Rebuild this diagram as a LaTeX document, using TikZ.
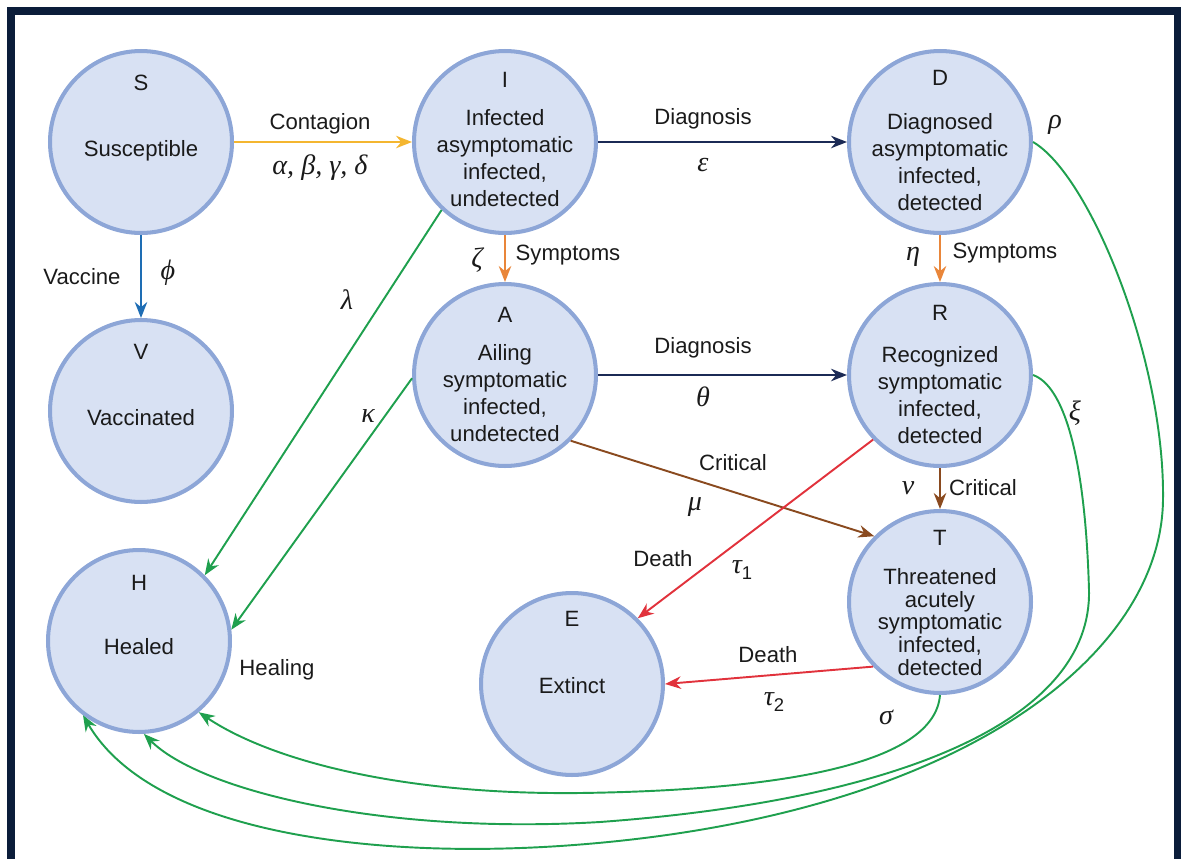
\documentclass[tikz,border=0pt]{standalone}
\usepackage{fontspec}
\setmainfont{Liberation Sans}
\newfontfamily\grkfont{Liberation Serif}
\usetikzlibrary{arrows.meta}
\newcommand{\subn}[1]{\raisebox{-0.45ex}{\normalfont\upshape\fontsize{10.5}{11}\selectfont #1}}
\definecolor{cframe}{HTML}{0B1D3A}
\definecolor{cfill}{HTML}{D8E1F3}
\definecolor{crim}{HTML}{8DA6D7}
\definecolor{cink}{HTML}{1A1A1A}
\definecolor{cyellow}{HTML}{F4B630}
\definecolor{cnavy}{HTML}{1B2A55}
\definecolor{corange}{HTML}{E9863A}
\definecolor{cblue}{HTML}{1E6DB4}
\definecolor{cbrown}{HTML}{8A4A1F}
\definecolor{cred}{HTML}{E1323C}
\definecolor{cgreen}{HTML}{1FA04E}

\begin{document}
\begin{tikzpicture}[
  x=0.02cm, y=-0.02cm,
  font=\fontsize{12.6}{15.5}\selectfont,
  state/.style={circle, draw=crim, fill=cfill, line width=2.3pt,
                minimum size=3.64cm, inner sep=0pt},
  tag/.style={text=cink, inner sep=1pt},
  desc/.style={text=cink, align=center, inner sep=1pt},
  tight/.style={desc, font=\fontsize{12.6}{13}\selectfont},
  greek/.style={text=cink, inner sep=1pt, font=\grkfont\itshape\fontsize{16}{18}\selectfont},
  flow/.style={-{Stealth[length=3.2mm, width=2.5mm]}, line width=1.1pt}
]
\useasboundingbox (0,0) rectangle (1181,859);
\draw[cframe, line width=4.5pt] (11,11) rectangle (1178,900);

% compartments
\node[state] (S) at (141,142) {};
\node[state] (V) at (141,411) {};
\node[state] (H) at (139,641) {};
\node[state] (I) at (505,142) {};
\node[state] (A) at (505,375) {};
\node[state] (E) at (572,684) {};
\node[state] (D) at (940,142) {};
\node[state] (R) at (940,375) {};
\node[state] (T) at (940,602) {};

% letters and names
\node[tag] (S-t) at (141,83) {S};
\node[desc] (S-d) at (141,151) {Susceptible};
\node[tag] (V-t) at (141,352) {V};
\node[desc] (V-d) at (141,418) {Vaccinated};
\node[tag] (H-t) at (139,583) {H};
\node[desc] (H-d) at (139,647) {Healed};
\node[tag] (E-t) at (572,619) {E};
\node[desc] (E-d) at (572,686) {Extinct};
\node[tag] (I-t) at (505,80) {I};
\node[desc] (I-d) at (505,158) {Infected\\asymptomatic\\infected,\\undetected};
\node[tag] (A-t) at (505,315) {A};
\node[desc] (A-d) at (505,393) {Ailing\\symptomatic\\infected,\\undetected};
\node[tag] (D-t) at (940,78) {D};
\node[desc] (D-d) at (940,162) {Diagnosed\\asymptomatic\\infected,\\detected};
\node[tag] (R-t) at (940,313) {R};
\node[desc] (R-d) at (940,395) {Recognized\\symptomatic\\infected,\\detected};
\node[tag] (T-t) at (940,538) {T};
\node[tight] (T-d) at (940,622) {Threatened\\acutely\\symptomatic\\infected,\\detected};

% transitions
\draw[flow, cyellow] (S.east) -- (I.west);
\draw[flow, cnavy] (I.east) -- (D.west);
\draw[flow, cblue] (S.south) -- (V.north);
\draw[flow, corange] (I.south) -- (A.north);
\draw[flow, corange] (D.south) -- (R.north);
\draw[flow, cnavy] (A.east) -- (R.west);
\draw[flow, cbrown] (R.south) -- (T.north);
\draw[flow, cbrown] (A.315) -- (T.135);
\draw[flow, cred] (R.224) -- (E.45);
\draw[flow, cred] (T.224) -- (E.0);
\draw[flow, cgreen] (I.227) -- (H.45);
\draw[flow, cgreen] (A.182) -- (H.7);
\draw[flow, cgreen] (T.south) .. controls (935,760) and (800,790) .. (580,793)
  .. controls (400,795) and (270,760) .. (H.-50);
\draw[flow, cgreen] (R.east) .. controls (1062,385) and (1085,450) .. (1089,590)
  .. controls (1092,720) and (900,800) .. (600,822)
  .. controls (380,835) and (200,790) .. (H.-87);
\draw[flow, cgreen] (D.east) .. controls (1090,175) and (1165,360) .. (1163,500)
  .. controls (1161,660) and (950,820) .. (560,846)
  .. controls (360,859) and (150,830) .. (H.-127);

% labels
\node[desc] (l-cont) at (320,124) {Contagion};
\node[greek] (g-cont) at (320,168) {α, β, γ, δ};
\node[desc] (l-diag1) at (703,119) {Diagnosis};
\node[greek] (g-eps) at (703,165) {ε};
\node[desc] (l-vacc) at (82,277) {Vaccine};
\node[greek] (g-phi) at (168,273) {ϕ};
\node[greek] (g-zeta) at (477,260) {ζ};
\node[desc] (l-symp1) at (568,255) {Symptoms};
\node[greek] (g-eta) at (913,257) {η};
\node[desc] (l-symp2) at (1005,253) {Symptoms};
\node[desc] (l-diag2) at (703,348) {Diagnosis};
\node[greek] (g-theta) at (703,397) {θ};
\node[desc] (l-crit1) at (733,463) {Critical};
\node[greek] (g-mu) at (695,507) {μ};
\node[greek] (g-nu) at (908,488) {ν};
\node[desc] (l-crit2) at (983,488) {Critical};
\node[desc] (l-death1) at (663,559) {Death};
\node[greek] (g-tau1) at (742,570) {τ\subn{1}};
\node[desc] (l-death2) at (768,655) {Death};
\node[greek] (g-tau2) at (774,702) {τ\subn{2}};
\node[greek] (g-lambda) at (347,300) {λ};
\node[greek] (g-kappa) at (368,416) {κ};
\node[desc] (l-heal) at (277,670) {Healing};
\node[greek] (g-sigma) at (886,717) {σ};
\node[greek] (g-xi) at (1075,413) {ξ};
\node[greek] (g-rho) at (1055,125) {ρ};
\end{tikzpicture}
\end{document}
